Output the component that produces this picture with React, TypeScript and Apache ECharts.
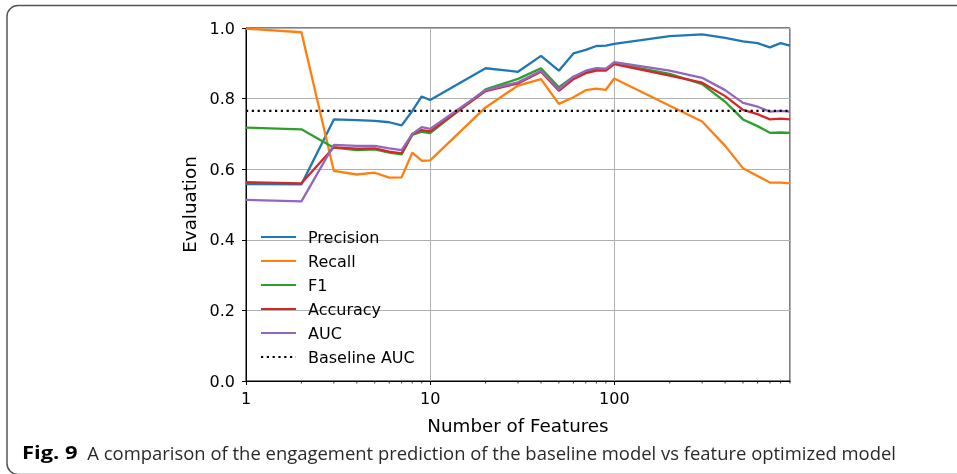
import React, { useEffect, useRef } from "react";
import * as echarts from "echarts";

const features = [1, 2, 3, 4, 5, 6, 7, 8, 9, 10, 20, 30, 40, 50, 60, 70, 80, 90, 100, 200, 300, 400, 500, 600, 700, 800, 900];
const precision = [0.558, 0.557, 0.741, 0.739, 0.737, 0.733, 0.724, 0.765, 0.806, 0.796, 0.886, 0.876, 0.921, 0.879, 0.928, 0.938, 0.949, 0.95, 0.955, 0.977, 0.982, 0.972, 0.962, 0.957, 0.945, 0.957, 0.95];
const recall = [0.998, 0.988, 0.595, 0.585, 0.59, 0.576, 0.577, 0.647, 0.624, 0.625, 0.775, 0.837, 0.855, 0.785, 0.804, 0.824, 0.828, 0.825, 0.857, 0.78, 0.735, 0.666, 0.603, 0.581, 0.562, 0.562, 0.56];
const f1 = [0.718, 0.713, 0.661, 0.654, 0.656, 0.647, 0.642, 0.697, 0.706, 0.702, 0.826, 0.856, 0.886, 0.832, 0.862, 0.876, 0.884, 0.883, 0.9, 0.87, 0.841, 0.791, 0.741, 0.722, 0.703, 0.704, 0.703];
const accuracy = [0.563, 0.56, 0.662, 0.658, 0.659, 0.65, 0.645, 0.7, 0.711, 0.707, 0.821, 0.843, 0.876, 0.822, 0.855, 0.872, 0.879, 0.879, 0.898, 0.865, 0.845, 0.807, 0.768, 0.756, 0.741, 0.743, 0.741];
const auc = [0.513, 0.509, 0.669, 0.666, 0.666, 0.659, 0.654, 0.7, 0.719, 0.714, 0.824, 0.846, 0.879, 0.826, 0.862, 0.879, 0.886, 0.885, 0.903, 0.879, 0.859, 0.824, 0.788, 0.777, 0.763, 0.765, 0.763];
const baselineAuc = 0.765;
const xMin = 1;
const xMax = 900;
const minorTicks = [2, 3, 4, 5, 6, 7, 8, 9, 20, 30, 40, 50, 60, 70, 80, 90, 200, 300, 400, 500, 600, 700, 800, 900];
const seriesNames = ["Precision", "Recall", "F1", "Accuracy", "AUC", "Baseline AUC"];
const colors = ["#1f77b4", "#ff7f0e", "#2ca02c", "#d62728", "#9467bd", "#000000"];
const captionBold = "Fig. 9";
const captionText = "A comparison of the engagement prediction of the baseline model vs feature optimized model";

const FONT = "DejaVu Sans";

export default function App() {
  const ref = useRef<HTMLDivElement>(null);
  useEffect(() => {
    if (!ref.current) return;
    const chart = echarts.init(ref.current, null, { renderer: "svg" });
    const mk = (vals: number[]) => features.map((f, i) => [f, vals[i]]);
    const lines = [precision, recall, f1, accuracy, auc].map((vals, i) => ({
      name: seriesNames[i],
      type: "line",
      data: mk(vals),
      symbol: "none",
      lineStyle: { width: 2.3, color: colors[i] },
      itemStyle: { color: colors[i] },
      z: 3 + i,
    }));
    const option: any = {
      animation: false,
      grid: { left: 246, right: 167, top: 28, bottom: 93, show: true, borderColor: "#000", borderWidth: 1, backgroundColor: "transparent" },
      legend: {
        orient: "vertical",
        left: 255,
        top: 224,
        itemWidth: 35,
        itemHeight: 14,
        itemGap: 8,
        data: seriesNames,
        itemStyle: { opacity: 0 },
        textStyle: { fontFamily: FONT, fontSize: 16, color: "#000", padding: [0, 0, 0, 7] },
      },
      xAxis: {
        type: "log",
        logBase: 10,
        min: xMin,
        max: xMax,
        name: "Number of Features",
        nameLocation: "middle",
        nameGap: 35,
        nameTextStyle: { fontFamily: FONT, fontSize: 18.3, color: "#000" },
        axisLine: { show: true, lineStyle: { color: "#000", width: 1 } },
        axisTick: { show: true, inside: false, length: 4, lineStyle: { color: "#000" } },
        axisLabel: {
          fontFamily: FONT,
          fontSize: 16,
          color: "#000",
          margin: 9,
          showMaxLabel: false,
          formatter: (v: number) => {
            const l = Math.log10(v);
            return Math.abs(l - Math.round(l)) < 1e-6 ? String(Math.round(v)) : "";
          },
        },
        splitLine: { show: true, lineStyle: { color: "#b0b0b0", width: 1 } },
      },
      yAxis: {
        type: "value",
        min: 0,
        max: 1,
        interval: 0.2,
        name: "Evaluation",
        nameLocation: "middle",
        nameGap: 36,
        nameTextStyle: { fontFamily: FONT, fontSize: 18.3, color: "#000" },
        axisLine: { show: true, lineStyle: { color: "#000", width: 1 } },
        axisTick: { show: true, inside: false, length: 4, lineStyle: { color: "#000" } },
        axisLabel: { fontFamily: FONT, fontSize: 16, color: "#000", margin: 11, formatter: (v: number) => v.toFixed(1) },
        splitLine: { show: true, lineStyle: { color: "#b0b0b0", width: 1 } },
      },
      series: [
        ...lines,
        {
          name: "Baseline AUC",
          type: "line",
          data: [[xMin, baselineAuc], [xMax, baselineAuc]],
          symbol: "none",
          lineStyle: { width: 2.3, color: "#000", type: [2.2, 3.6] },
          itemStyle: { color: "#000" },
          z: 9,
        },
        {
          name: "minorTicks",
          type: "custom",
          silent: true,
          data: minorTicks.map((v) => [v, 0]),
          renderItem: (params: any, api: any) => {
            const p = api.coord([api.value(0), 0]);
            return {
              type: "line",
              shape: { x1: p[0], y1: p[1], x2: p[0], y2: p[1] + 2.5 },
              style: { stroke: "#000", lineWidth: 0.8 },
            };
          },
          z: 10,
        },
      ],
      graphic: [
        {
          type: "rect",
          shape: { x: 7, y: 5.5, width: 1100, height: 469, r: 11 },
          style: { fill: "none", stroke: "#555", lineWidth: 1.5 },
          silent: true,
        },
        {
          type: "text",
          x: 22,
          y: 452,
          scaleX: 1.18,
          style: {
            text: captionBold,
            fontFamily: "Open Sans",
            fontWeight: "bold",
            fontSize: 18.6,
            fill: "#000",
            verticalAlign: "middle",
            align: "left",
          },
        },
        {
          type: "text",
          x: 87.3,
          y: 452,
          style: {
            text: captionText,
            fontFamily: "Open Sans",
            fontSize: 18.45,
            fill: "#2a2a2a",
            verticalAlign: "middle",
            align: "left",
          },
        },
      ],
    };
    chart.setOption(option);
    return () => chart.dispose();
  }, []);
  return <div ref={ref} style={{ position: "fixed", left: 0, top: 0, width: 957, height: 474 }} />;
}
